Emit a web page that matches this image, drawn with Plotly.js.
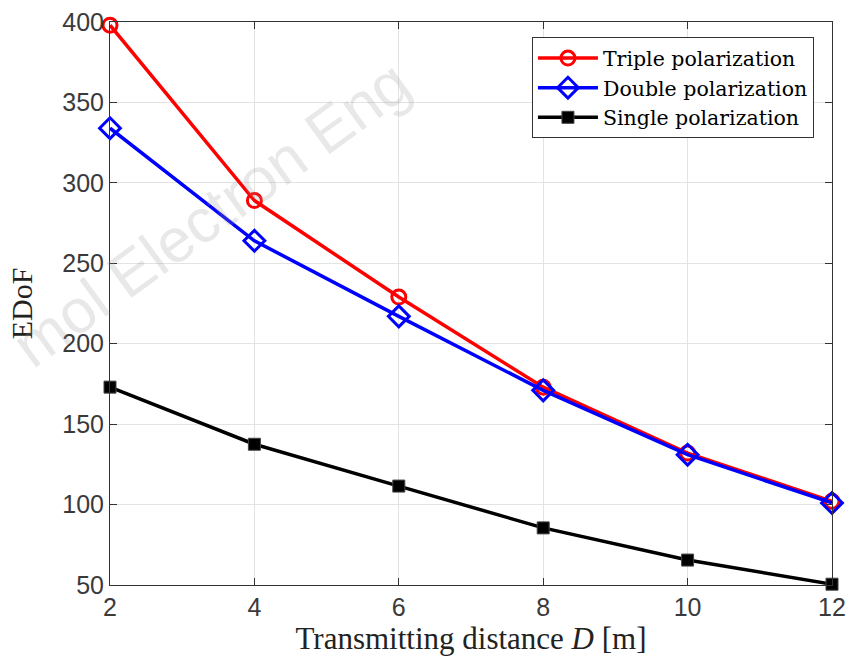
<!DOCTYPE html>
<html>
<head>
<meta charset="utf-8">
<script src="https://cdn.plot.ly/plotly-3.0.1.min.js"></script>
<style>html,body{margin:0;padding:0;background:#fff;}#chart{width:859px;height:663px;}</style>
</head>
<body>
<div id="chart"></div>
<script>
const distance = [2, 4, 6, 8, 10, 12];
const triple = [398, 289, 229, 173, 132, 102];
const double_ = [334, 264, 217, 171, 131, 101];
const single = [173, 137.5, 111.5, 85.5, 65.5, 50.5];
const seriesNames = ["Triple polarization", "Double polarization", "Single polarization"];

const traces = [
  {x: distance, y: triple, name: seriesNames[0], mode: "lines+markers", cliponaxis: false,
   line: {color: "#ff0000", width: 3.5},
   marker: {symbol: "circle-open", size: 14, color: "#ff0000", line: {width: 3}}},
  {x: distance, y: double_, name: seriesNames[1], mode: "lines+markers", cliponaxis: false,
   line: {color: "#0000ff", width: 3.5},
   marker: {symbol: "diamond-open", size: 16, color: "#0000ff", line: {width: 3}}},
  {x: distance, y: single, name: seriesNames[2], mode: "lines+markers", cliponaxis: false,
   line: {color: "#000000", width: 3.5},
   marker: {symbol: "square", size: 12, color: "#000000", line: {width: 1}}}
];

const tickFont = {family: "Liberation Sans, Arial, sans-serif", size: 25, color: "#3a3a3a"};
const layout = {
  width: 859, height: 663,
  margin: {l: 110, r: 27, t: 22, b: 78},
  paper_bgcolor: "#ffffff", plot_bgcolor: "#ffffff",
  showlegend: true,
  legend: {x: 0.975, y: 0.973, xanchor: "right", yanchor: "top",
    bgcolor: "#ffffff", bordercolor: "#333333", borderwidth: 1,
    font: {family: "DejaVu Serif, Liberation Serif, serif", size: 20.5, color: "#000"},
    tracegroupgap: 0, itemwidth: 60},
  xaxis: {range: [2, 12], tickvals: [2, 4, 6, 8, 10, 12],
    showgrid: true, gridcolor: "#e3e3e3", gridwidth: 1,
    ticks: "inside", ticklen: 7, tickcolor: "#333", tickwidth: 1,
    showline: true, linecolor: "#333", linewidth: 1, mirror: "ticks",
    zeroline: false, tickfont: tickFont,
    title: {text: "Transmitting distance <i>D</i> [m]", standoff: 4,
      font: {family: "Liberation Serif, Times New Roman, serif", size: 31, color: "#222"}}},
  yaxis: {range: [50, 400], tickvals: [50, 100, 150, 200, 250, 300, 350, 400],
    showgrid: true, gridcolor: "#e3e3e3", gridwidth: 1,
    ticks: "inside", ticklen: 7, tickcolor: "#333", tickwidth: 1,
    showline: true, linecolor: "#333", linewidth: 1, mirror: "ticks",
    zeroline: false, tickfont: tickFont,
    title: {text: "EDoF", standoff: 20,
      font: {family: "Liberation Serif, Times New Roman, serif", size: 30, color: "#222"}}},
  annotations: [{
    text: "mol Electron Eng", xref: "paper", yref: "paper",
    x: 0.14, y: 0.66, xanchor: "center", yanchor: "middle",
    textangle: -36, showarrow: false,
    font: {family: "Liberation Sans, Arial, sans-serif", size: 62, color: "rgba(150,150,150,0.22)"}
  }]
};
Plotly.newPlot("chart", traces, layout, {displayModeBar: false, staticPlot: true});
</script>
</body>
</html>
